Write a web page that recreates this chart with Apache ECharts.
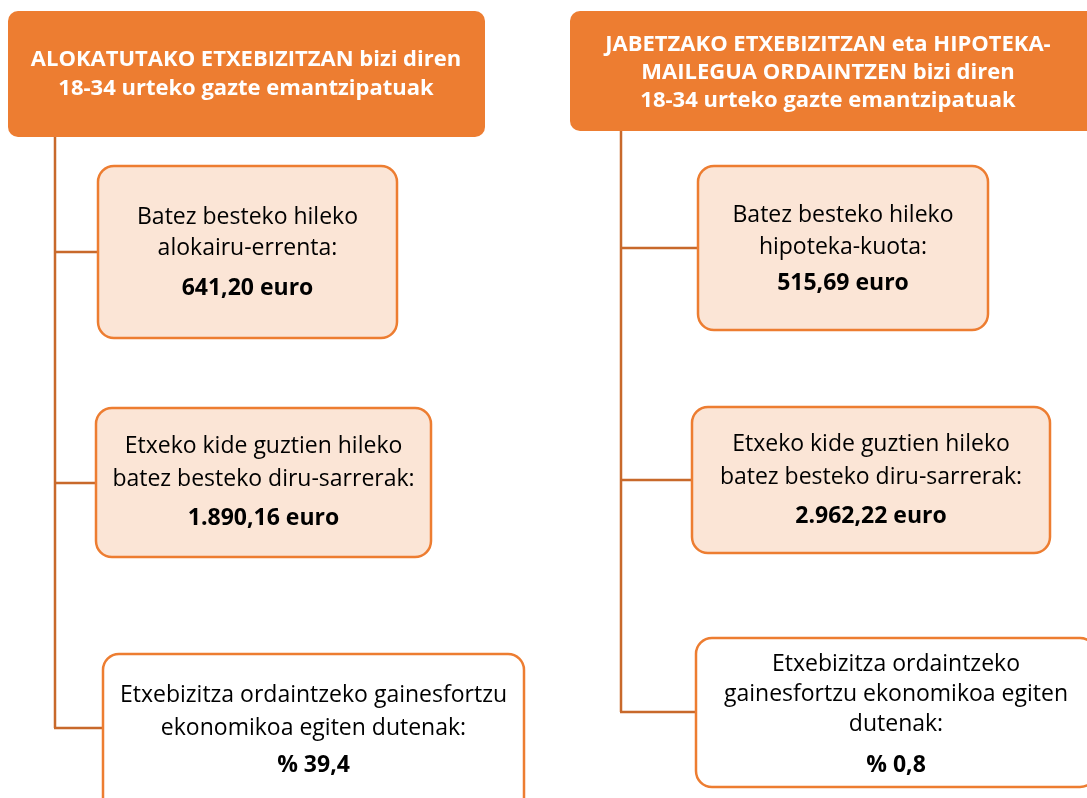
<!DOCTYPE html>
<html><head><meta charset="utf-8">
<script src="https://cdn.jsdelivr.net/npm/echarts@6/dist/echarts.min.js"></script>
<style>html,body{margin:0;padding:0;background:#fff}#c{width:1087px;height:798px}</style>
</head><body><div id="c"></div>
<script>
// ---- data ----
const headerTexts = [
  'ALOKATUTAKO ETXEBIZITZAN bizi diren\n18-34 urteko gazte emantzipatuak',
  'JABETZAKO ETXEBIZITZAN eta HIPOTEKA-\nMAILEGUA ORDAINTZEN bizi diren\n18-34 urteko gazte emantzipatuak'
];
const rentLabels = [
  'Batez besteko hileko\nalokairu-errenta:',
  'Etxeko kide guztien hileko\nbatez besteko diru-sarrerak:',
  'Etxebizitza ordaintzeko gainesfortzu\nekonomikoa egiten dutenak:'
];
const rentValues = ['641,20 euro', '1.890,16 euro', '% 39,4'];
const mortgageLabels = [
  'Batez besteko hileko\nhipoteka-kuota:',
  'Etxeko kide guztien hileko\nbatez besteko diru-sarrerak:',
  'Etxebizitza ordaintzeko\ngainesfortzu ekonomikoa egiten\ndutenak:'
];
const mortgageValues = ['515,69 euro', '2.962,22 euro', '% 0,8'];

// ---- layout ----
const FONT = '"Open Sans", Lato, sans-serif';
const ORANGE = '#ED7D31', LINE = '#C8692B', PEACH = '#FBE5D6';
const columns = [
  {
    header: {x: 8, y: 11, w: 477, h: 126, cx: 246, cy: 74, lh: 29},
    trunkX: 55, trunkTop: 137,
    boxes: [
      {x: 98, y: 166, w: 299, h: 172, cy: 233, vy: 288, fill: PEACH, branch: 252, lh: 31},
      {x: 96, y: 408, w: 335, h: 149, cy: 463, vy: 518, fill: PEACH, branch: 483, lh: 33},
      {x: 103, y: 654, w: 421, h: 160, cy: 712, vy: 765, fill: '#fff', branch: 728, lh: 33}
    ],
    labels: rentLabels, values: rentValues
  },
  {
    header: {x: 570, y: 11, w: 530, h: 120, cx: 828, cy: 73, lh: 28},
    trunkX: 621, trunkTop: 131,
    boxes: [
      {x: 698, y: 166, w: 290, h: 164, cy: 231, vy: 283, fill: PEACH, branch: 248, lh: 32},
      {x: 692, y: 407, w: 358, h: 146, cy: 461, vy: 516, fill: PEACH, branch: 480, lh: 33},
      {x: 696, y: 638, w: 400, h: 149, cy: 694, vy: 765, fill: '#fff', branch: 712, lh: 30}
    ],
    labels: mortgageLabels, values: mortgageValues
  }
];

const elements = [];
columns.forEach((col, ci) => {
  const last = col.boxes[col.boxes.length - 1];
  elements.push({type: 'line', shape: {x1: col.trunkX, y1: col.trunkTop, x2: col.trunkX, y2: last.branch},
    style: {stroke: LINE, lineWidth: 2.5}});
  col.boxes.forEach((b, i) => {
    elements.push({type: 'line', shape: {x1: col.trunkX - 1, y1: b.branch, x2: b.x, y2: b.branch},
      style: {stroke: LINE, lineWidth: 2.5}});
    elements.push({type: 'rect', shape: {x: b.x, y: b.y, width: b.w, height: b.h, r: 16},
      style: {fill: b.fill, stroke: ORANGE, lineWidth: 2.5}});
    elements.push({type: 'text', x: b.x + b.w / 2, y: b.cy,
      style: {text: col.labels[i], font: '23px ' + FONT, fill: '#000', align: 'center', verticalAlign: 'middle', lineHeight: b.lh}});
    elements.push({type: 'text', x: b.x + b.w / 2, y: b.vy,
      style: {text: col.values[i], font: 'bold 23px ' + FONT, fill: '#000', align: 'center', verticalAlign: 'middle'}});
  });
  const h = col.header;
  elements.push({type: 'rect', shape: {x: h.x, y: h.y, width: h.w, height: h.h, r: 10},
    style: {fill: ORANGE}});
  elements.push({type: 'text', x: h.cx, y: h.cy,
    style: {text: headerTexts[ci], font: 'bold 22px ' + FONT, fill: '#fff', align: 'center', verticalAlign: 'middle', lineHeight: h.lh}});
});

const chart = echarts.init(document.getElementById('c'), null, {renderer: 'canvas'});
chart.setOption({animation: false, graphic: {elements}});
</script></body></html>
